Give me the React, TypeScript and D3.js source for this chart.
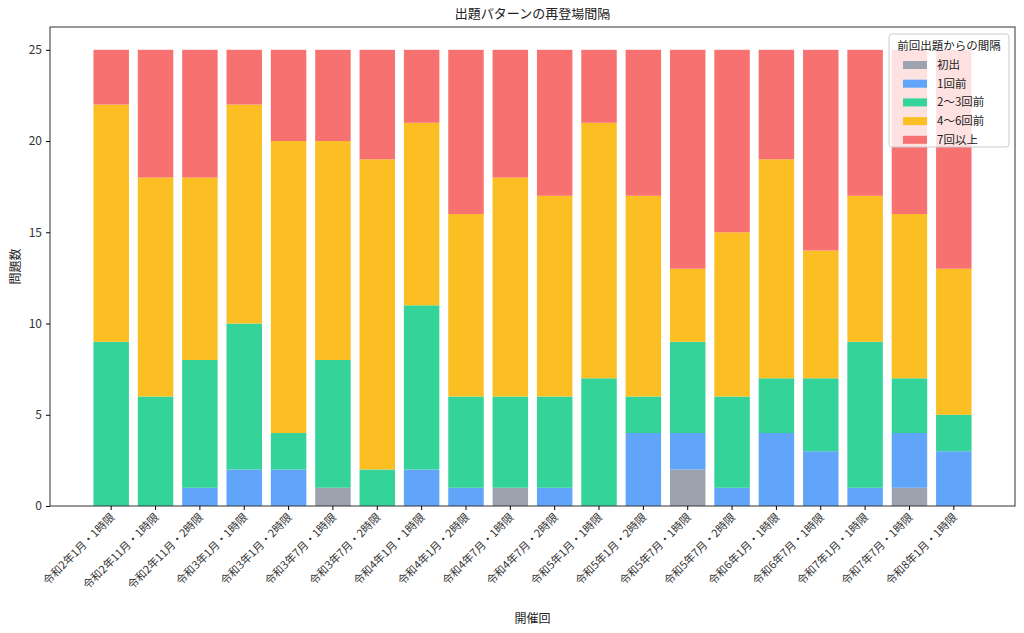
import { useEffect, useRef } from 'react'
import * as d3 from 'd3'

const sessions = [
  '令和2年1月・1時限', '令和2年11月・1時限', '令和2年11月・2時限', '令和3年1月・1時限',
  '令和3年1月・2時限', '令和3年7月・1時限', '令和3年7月・2時限', '令和4年1月・1時限',
  '令和4年1月・2時限', '令和4年7月・1時限', '令和4年7月・2時限', '令和5年1月・1時限',
  '令和5年1月・2時限', '令和5年7月・1時限', '令和5年7月・2時限', '令和6年1月・1時限',
  '令和6年7月・1時限', '令和7年1月・1時限', '令和7年7月・1時限', '令和8年1月・1時限',
]
const seriesNames = ['初出', '1回前', '2〜3回前', '4〜6回前', '7回以上']
const colors = ['#9ca3af', '#60a5fa', '#34d399', '#fbbf24', '#f87171']
const first = [0, 0, 0, 0, 0, 1, 0, 0, 0, 1, 0, 0, 0, 2, 0, 0, 0, 0, 1, 0]
const prev1 = [0, 0, 1, 2, 2, 0, 0, 2, 1, 0, 1, 0, 4, 2, 1, 4, 3, 1, 3, 3]
const prev2to3 = [9, 6, 7, 8, 2, 7, 2, 9, 5, 5, 5, 7, 2, 5, 5, 3, 4, 8, 3, 2]
const prev4to6 = [13, 12, 10, 12, 16, 12, 17, 10, 10, 12, 11, 14, 11, 4, 9, 12, 7, 8, 9, 8]
const prev7plus = [3, 7, 7, 3, 5, 5, 6, 4, 9, 7, 8, 4, 8, 12, 10, 6, 11, 8, 9, 12]
const yTicks = [0, 5, 10, 15, 20, 25]

export default function App() {
  const ref = useRef<SVGSVGElement>(null)

  useEffect(() => {
    if (!ref.current) return
    const svg = d3.select(ref.current)
    svg.selectAll('*').remove()
    const font = '"Noto Sans CJK JP", "Noto Sans", sans-serif'
    svg.attr('font-family', font)

    const left = 50, right = 1015, top = 27, bottom = 506

    const rows = sessions.map((s, i) => ({
      s, v: [first[i], prev1[i], prev2to3[i], prev4to6[i], prev7plus[i]],
    }))
    const stack = d3.stack<{ s: string; v: number[] }, number>()
      .keys([0, 1, 2, 3, 4])
      .value((d, k) => d.v[k])(rows)

    const x = d3.scaleBand().domain(sessions).range([left, right]).paddingInner(0.2).paddingOuter(0.98)
    const y = d3.scaleLinear().domain([0, 26.25]).range([bottom, top])

    stack.forEach((layer, k) => {
      svg.append('g').selectAll('rect').data(layer).join('rect')
        .attr('x', d => x(d.data.s)!)
        .attr('width', x.bandwidth())
        .attr('y', d => y(d[1]))
        .attr('height', d => y(d[0]) - y(d[1]))
        .attr('fill', colors[k])
    })

    svg.append('rect').attr('x', left).attr('y', top).attr('width', right - left).attr('height', bottom - top)
      .attr('fill', 'none').attr('stroke', '#333').attr('stroke-width', 1)

    const yAxis = svg.append('g').attr('transform', `translate(${left},0)`)
      .call(d3.axisLeft(y).tickValues(yTicks).tickSize(4).tickPadding(4))
    yAxis.select('.domain').remove()
    yAxis.selectAll('text').attr('font-size', 12).attr('fill', '#333').attr('font-family', font)

    const xAxis = svg.append('g').attr('transform', `translate(0,${bottom})`)
      .call(d3.axisBottom(x).tickSize(4))
    xAxis.select('.domain').remove()
    xAxis.selectAll('text')
      .attr('font-size', 11).attr('fill', '#333').attr('font-family', font)
      .attr('text-anchor', 'end').attr('dy', null).attr('y', 0)
      .attr('transform', 'translate(4,12) rotate(-45)')

    svg.append('text').attr('x', (left + right) / 2).attr('y', 18).attr('text-anchor', 'middle')
      .attr('font-size', 13).attr('fill', '#222').text('出題パターンの再登場間隔')
    svg.append('text').attr('x', (left + right) / 2).attr('y', 623).attr('text-anchor', 'middle')
      .attr('font-size', 12).attr('fill', '#222').text('開催回')
    svg.append('text').attr('transform', `translate(20,${(top + bottom) / 2}) rotate(-90)`)
      .attr('text-anchor', 'middle').attr('font-size', 12).attr('fill', '#222').text('問題数')

    const lg = svg.append('g').attr('transform', 'translate(889,34)')
    lg.append('rect').attr('width', 120).attr('height', 113).attr('rx', 3)
      .attr('fill', 'white').attr('fill-opacity', 0.8).attr('stroke', '#ccc')
    lg.append('text').attr('x', 60).attr('y', 16).attr('text-anchor', 'middle')
      .attr('font-size', 11.5).attr('fill', '#222').text('前回出題からの間隔')
    seriesNames.forEach((n, k) => {
      const yy = 31 + k * 18.7
      lg.append('rect').attr('x', 14).attr('y', yy - 4).attr('width', 24).attr('height', 8).attr('fill', colors[k])
      lg.append('text').attr('x', 48).attr('y', yy + 4).attr('font-size', 11.5).attr('fill', '#222').text(n)
    })
  }, [])

  return <svg ref={ref} width={1024} height={633} style={{ display: 'block', margin: -8 }} />
}
